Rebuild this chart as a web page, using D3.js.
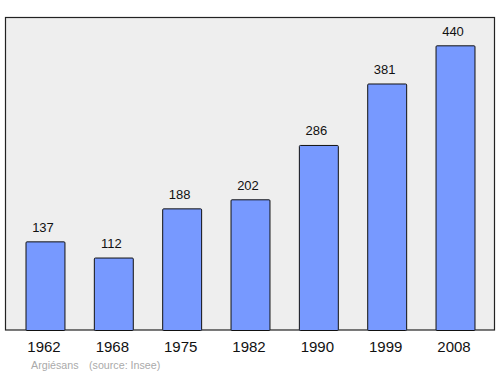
<!DOCTYPE html>
<html><head><meta charset="utf-8">
<script src="https://cdn.jsdelivr.net/npm/d3@7/dist/d3.min.js"></script>
<style>body{margin:0;background:#fff}svg{display:block}</style>
</head><body>
<script>
const years = ["1962","1968","1975","1982","1990","1999","2008"];
const population = [137,112,188,202,286,381,440];
const commune = "Argiésans";
const source = "(source: Insee)";

const W = 500, H = 374;
const svg = d3.select("body").append("svg").attr("width", W).attr("height", H);
const pLeft = 5, pRight = 495, pTop = 17.5, pBottom = 330;

svg.append("rect").attr("x", pLeft + 0.5).attr("y", pTop).attr("width", pRight - pLeft - 1).attr("height", pBottom - pTop)
  .attr("fill", "#eeeeee").attr("stroke", "#222").attr("stroke-width", 1.2);

const x = d3.scaleBand().domain(years).range([pLeft, pRight]).paddingInner(0.43).paddingOuter(0.3);
const y = d3.scaleLinear().domain([0, 483]).range([pBottom, pTop]);

svg.selectAll("rect.bar").data(years).enter().append("rect").attr("class", "bar")
  .attr("x", d => x(d) + 0.5).attr("y", (d, i) => y(population[i]) + 0.5)
  .attr("width", x.bandwidth()).attr("height", (d, i) => pBottom - y(population[i]))
  .attr("rx", 1)
  .attr("fill", "#7799ff").attr("stroke", "#111").attr("stroke-width", 1);

svg.selectAll("text.val").data(years).enter().append("text").attr("class", "val")
  .attr("x", d => x(d) + x.bandwidth() / 2 - 2).attr("y", (d, i) => y(population[i]) - 9.5)
  .attr("text-anchor", "middle").attr("font-family", "Liberation Sans, Arial, sans-serif")
  .attr("font-size", 13).attr("fill", "#111").text((d, i) => population[i]);

const xAxis = d3.axisBottom(x).tickSize(0).tickPadding(0);
const ax = svg.append("g").attr("transform", `translate(0,${pBottom + 22})`).call(xAxis);
ax.select(".domain").remove();
ax.selectAll("text").attr("font-family", "Liberation Sans, Arial, sans-serif").attr("font-size", 15)
  .attr("fill", "#111").attr("dy", 0).attr("dx", -1);

svg.append("text").attr("x", 31).attr("y", 368.5).attr("font-family", "Liberation Sans, Arial, sans-serif")
  .attr("font-size", 10.7).attr("fill", "#aaaaaa").text(commune);
svg.append("text").attr("x", 89).attr("y", 368.5).attr("font-family", "Liberation Sans, Arial, sans-serif")
  .attr("font-size", 10.7).attr("fill", "#aaaaaa").text(source);
</script>
</body></html>
